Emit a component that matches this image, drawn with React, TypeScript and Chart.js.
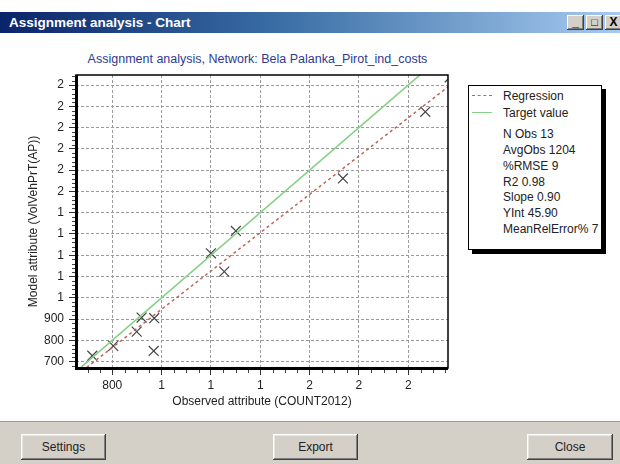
import React, { useEffect, useRef } from "react";
import { Chart, registerables } from "chart.js";

Chart.register(...registerables);

// ---- data ----
const observedValues = [719, 804, 899, 919, 970, 968, 1200, 1254, 1301, 1735, 2069, 2168];
const modelValues = [728, 774, 841, 907, 904, 750, 1209, 1123, 1314, 1561, 1874, 2036];

const targetX = [600, 2200];
const targetY = [600, 2200];
const regressionX = [600, 2200];
const regressionY = [586, 2026];

const xTickValues = [800, 1000, 1200, 1400, 1600, 1800, 2000];
const xTickLabels = ["800", "1", "1", "1", "2", "2", "2"];
const yTickValues = [700, 800, 900, 1000, 1100, 1200, 1300, 1400, 1500, 1600, 1700, 1800, 1900, 2000];
const yTickLabels = ["700", "800", "900", "1", "1", "1", "1", "1", "2", "2", "2", "2", "2", "2"];

const xRange = [653, 2161];
const yRange = [670, 2047];
const xMinorStep = 50;
const yMinorStep = 20;

const legendLabels = ["Regression", "Target value"];
const statNames = ["N Obs", "AvgObs", "%RMSE", "R2", "Slope", "YInt", "MeanRelError%"];
const statValues = ["13", "1204", "9", "0.98", "0.90", "45.90", "7"];

const windowTitle = "Assignment analysis - Chart";
const chartTitle = "Assignment analysis, Network: Bela Palanka_Pirot_ind_costs";
const xAxisTitle = "Observed attribute (COUNT2012)";
const yAxisTitle = "Model attribute (VolVehPrT(AP))";
const buttonLabels = ["Settings", "Export", "Close"];

const FONT = "'Liberation Sans', Arial, sans-serif";

const framePlugin = {
  id: "frame",
  afterDatasetsDraw(chart: any) {
    const { ctx, chartArea, scales } = chart;
    const { left, right, top, bottom } = chartArea;
    const xs = scales.x;
    const ys = scales.y;
    ctx.save();
    // minor ticks
    ctx.strokeStyle = "#444";
    ctx.lineWidth = 1;
    ctx.beginPath();
    for (let v = Math.ceil(xRange[0] / xMinorStep) * xMinorStep; v <= xRange[1]; v += xMinorStep) {
      if (v % 200 === 0) continue;
      const px = Math.round(xs.getPixelForValue(v)) + 0.5;
      ctx.moveTo(px, bottom + 1);
      ctx.lineTo(px, bottom + 5);
    }
    for (let v = Math.ceil(yRange[0] / yMinorStep) * yMinorStep; v <= yRange[1]; v += yMinorStep) {
      if (v % 100 === 0) continue;
      const py = Math.round(ys.getPixelForValue(v)) + 0.5;
      ctx.moveTo(left - 4, py);
      ctx.lineTo(left - 1, py);
    }
    ctx.stroke();
    // frame
    ctx.strokeStyle = "#000";
    ctx.lineWidth = 1.5;
    ctx.strokeRect(left, top, right - left, bottom - top);
    ctx.fillStyle = "#000";
    ctx.fillRect(left - 1, top, 3, bottom - top + 2);
    ctx.fillRect(left - 1, bottom - 1, right - left + 1, 3);
    ctx.restore();
  },
};

function ChartCanvas() {
  const ref = useRef<HTMLCanvasElement | null>(null);
  useEffect(() => {
    if (!ref.current) return;
    Chart.defaults.font.family = FONT;
    Chart.defaults.font.size = 12;
    Chart.defaults.color = "#222";
    const chart = new Chart(ref.current, {
      type: "scatter",
      data: {
        datasets: [
          {
            type: "line",
            label: legendLabels[0],
            data: regressionX.map((x, i) => ({ x, y: regressionY[i] })),
            borderColor: "#c0645a",
            borderWidth: 1.5,
            borderDash: [3, 3],
            pointRadius: 0,
            fill: false,
          },
          {
            type: "line",
            label: legendLabels[1],
            data: targetX.map((x, i) => ({ x, y: targetY[i] })),
            borderColor: "#86d086",
            borderWidth: 1.6,
            pointRadius: 0,
            fill: false,
          },
          {
            label: "Observations",
            data: observedValues.map((x, i) => ({ x, y: modelValues[i] })),
            pointStyle: "crossRot",
            pointRadius: 7,
            pointBorderWidth: 1.2,
            borderColor: "#454545",
            backgroundColor: "#454545",
            clip: 0,
          } as any,
        ],
      },
      options: {
        animation: false,
        responsive: false,
        maintainAspectRatio: false,
        layout: { padding: { left: 0, top: 39, right: 12, bottom: 0 } },
        plugins: {
          legend: { display: false },
          tooltip: { enabled: false },
          title: { display: false },
        },
        scales: {
          x: {
            type: "linear",
            min: xRange[0],
            max: xRange[1],
            afterBuildTicks: (scale: any) => {
              scale.ticks = xTickValues.map((v) => ({ value: v }));
            },
            afterFit: (scale: any) => {
              scale.height = 52;
            },
            ticks: {
              autoSkip: false,
              maxRotation: 0,
              padding: 3,
              color: "#222",
              font: { size: 12 },
              callback: (_v: any, i: number) => xTickLabels[i],
            },
            grid: {
              color: "#9a9a9a",
              lineWidth: 1,
              tickLength: 7,
              tickColor: "#333",
              tickWidth: 1,
            },
            border: { display: false, dash: [3, 2] },
            title: {
              display: true,
              text: xAxisTitle,
              color: "#222",
              font: { size: 12 },
              padding: { top: 0, bottom: 11 },
            },
          },
          y: {
            type: "linear",
            min: yRange[0],
            max: yRange[1],
            afterBuildTicks: (scale: any) => {
              scale.ticks = yTickValues.map((v) => ({ value: v }));
            },
            afterFit: (scale: any) => {
              scale.width = 76;
            },
            ticks: {
              autoSkip: false,
              padding: 5,
              color: "#222",
              font: { size: 12 },
              callback: (_v: any, i: number) => yTickLabels[i],
            },
            grid: {
              color: "#9a9a9a",
              lineWidth: 1,
              tickLength: 7,
              tickColor: "#333",
              tickWidth: 1,
            },
            border: { display: false, dash: [3, 2] },
            title: {
              display: true,
              text: yAxisTitle,
              color: "#222",
              font: { size: 12 },
              padding: { top: 26, bottom: 0 },
            },
          },
        },
      },
      plugins: [framePlugin],
    } as any);
    return () => chart.destroy();
  }, []);
  return (
    <canvas
      ref={ref}
      width={460}
      height={384}
      style={{ position: "absolute", left: 0, top: 36, width: 460, height: 384 }}
    />
  );
}

const winBtn: React.CSSProperties = {
  position: "absolute",
  top: 15,
  width: 17,
  height: 15,
  background: "#d4d0c8",
  boxShadow: "inset -1px -1px #404040, inset 1px 1px #ffffff, inset -2px -2px #808080",
  color: "#000",
  fontFamily: FONT,
  fontWeight: "bold",
  fontSize: 12,
  lineHeight: "15px",
  textAlign: "center",
};

function PushButton({ label, left, width }: { label: string; left: number; width: number }) {
  return (
    <div
      style={{
        position: "absolute",
        left,
        top: 434,
        width,
        height: 26,
        background: "#d4d0c8",
        boxShadow:
          "inset -1px -1px #404040, inset 1px 1px #ffffff, inset -2px -2px #808080, inset 2px 2px #e8e6e0",
        fontFamily: FONT,
        fontSize: 12,
        color: "#222",
        lineHeight: "26px",
        textAlign: "center",
      }}
    >
      {label}
    </div>
  );
}

export default function App() {
  const statsTop = 40;
  const statLine = 15.85;
  return (
    <div
      style={{
        position: "absolute",
        left: 0,
        top: 0,
        width: 620,
        height: 464,
        background: "#ffffff",
        overflow: "hidden",
        fontFamily: FONT,
      }}
    >
      {/* title bar */}
      <div
        style={{
          position: "absolute",
          left: 0,
          top: 12,
          width: 620,
          height: 21,
          background: "linear-gradient(to right, #0a246a 0%, #3a6ea5 45%, #a6caf0 100%)",
        }}
      >
        <div
          style={{
            position: "absolute",
            left: 9,
            top: 0,
            lineHeight: "21px",
            color: "#fff",
            fontWeight: "bold",
            fontSize: 13.5,
            whiteSpace: "nowrap",
          }}
        >
          {windowTitle}
        </div>
      </div>
      <div style={{ ...winBtn, left: 567 }}>_</div>
      <div style={{ ...winBtn, left: 586, fontSize: 11 }}>□</div>
      <div style={{ ...winBtn, left: 605 }}>X</div>

      {/* chart title */}
      <div
        style={{
          position: "absolute",
          left: 0,
          width: 515,
          top: 52,
          textAlign: "center",
          fontSize: 12.5,
          lineHeight: "14px",
          color: "#2e3a92",
          whiteSpace: "nowrap",
        }}
      >
        {chartTitle}
      </div>

      <ChartCanvas />

      {/* legend box */}
      <div
        style={{
          position: "absolute",
          left: 468,
          top: 85,
          width: 132,
          height: 163,
          border: "1px solid #000",
          boxShadow: "4px 4px 0 #000",
          background: "#fff",
          fontSize: 12,
          color: "#222",
        }}
      >
        <div
          style={{
            position: "absolute",
            left: 3,
            top: 9,
            width: 20,
            borderTop: "1.5px dashed #c0645a",
          }}
        />
        <div style={{ position: "absolute", left: 34, top: 2, lineHeight: "16px" }}>{legendLabels[0]}</div>
        <div
          style={{
            position: "absolute",
            left: 3,
            top: 26,
            width: 20,
            borderTop: "1.5px solid #86d086",
          }}
        />
        <div style={{ position: "absolute", left: 34, top: 18.5, lineHeight: "16px" }}>{legendLabels[1]}</div>
        {statNames.map((n, i) => (
          <div
            key={n}
            style={{
              position: "absolute",
              left: 34,
              top: statsTop + i * statLine,
              lineHeight: "16px",
              whiteSpace: "nowrap",
            }}
          >
            {n} {statValues[i]}
          </div>
        ))}
      </div>

      {/* bottom panel */}
      <div
        style={{
          position: "absolute",
          left: 0,
          top: 421,
          width: 620,
          height: 43,
          background: "#d4d0c8",
          borderTop: "1px solid #9a9a9a",
        }}
      />
      <PushButton label={buttonLabels[0]} left={21} width={85} />
      <PushButton label={buttonLabels[1]} left={273} width={85} />
      <PushButton label={buttonLabels[2]} left={527} width={86} />
    </div>
  );
}
